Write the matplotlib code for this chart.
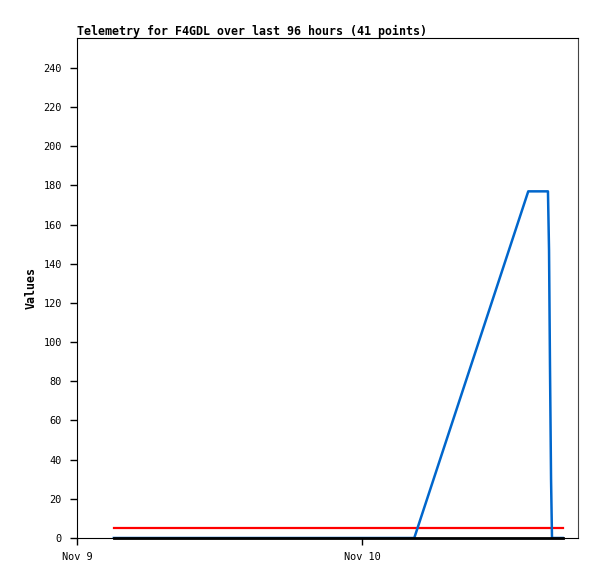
import numpy as np
import matplotlib
matplotlib.use("Agg")
import matplotlib.pyplot as plt

# hours since Nov 9 00:00
blue_t = [3.1, 28.4, 38.0, 39.66, 39.75, 39.83, 39.92, 40.0, 40.9]
blue_v = [0, 0, 177, 177, 147, 88, 30, 0, 0]
red_t = [3.1, 40.9]
red_v = [5, 5]
black_t = [3.1, 40.9]
black_v = [0, 0]
tick_pos = [0, 24]
tick_lab = ["Nov 9", "Nov 10"]

plt.rcParams['font.family'] = ['DejaVu Sans Mono']

fig = plt.figure(figsize=(5.97, 5.79), dpi=100)
ax = fig.add_axes([77/597, 41/579, 501/597, 500/579])

ax.plot(red_t, red_v, color="#ff0000", linewidth=1.6, zorder=2)
ax.plot(blue_t, blue_v, color="#0066cc", linewidth=1.8, zorder=3)
ax.plot(black_t, black_v, color="#000000", linewidth=2.0, zorder=4, clip_on=False)

ax.set_xlim(0, 501/285*24)
ax.set_ylim(0, 255.3)
ax.set_xticks(tick_pos)
ax.set_xticklabels(tick_lab)
ax.set_yticks(np.arange(0, 241, 20))
ax.tick_params(direction="out", length=5, width=1, labelsize=7.4)
ax.tick_params(axis="y", pad=6)
ax.tick_params(axis="x", pad=5)

for s in ["left", "bottom", "top"]:
    ax.spines[s].set_color("black")
ax.spines["right"].set_color("#444444")

ax.set_ylabel("Values", fontsize=8.4, fontweight="bold", labelpad=4)
ax.set_title("Telemetry for F4GDL over last 96 hours (41 points)", loc="left",
             fontsize=8.4, fontweight="bold", pad=2)

fig.savefig("out.png", dpi=100)
